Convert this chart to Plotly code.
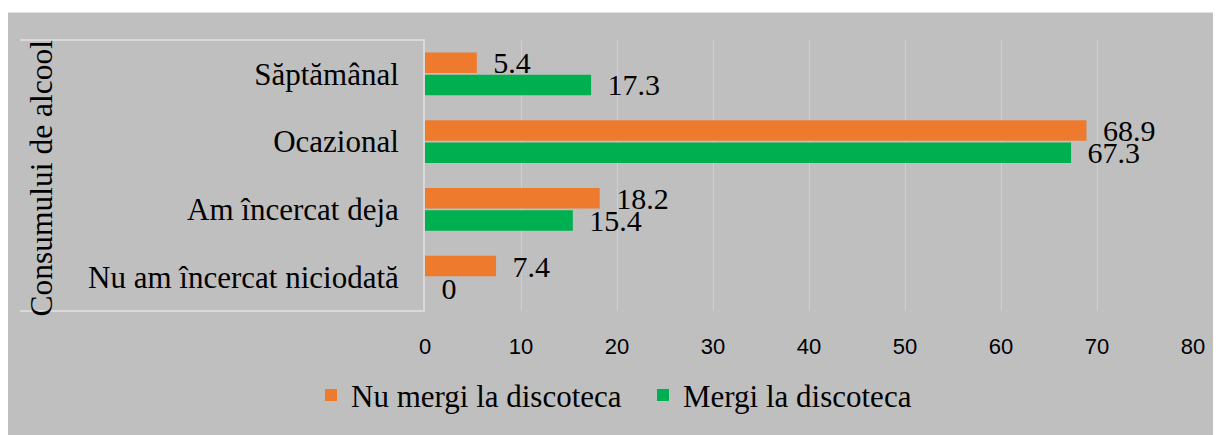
import plotly.graph_objects as go

categories = ["Nu am încercat niciodată", "Am încercat deja", "Ocazional", "Săptămânal"]
nu_mergi = [7.4, 18.2, 68.9, 5.4]
mergi = [0, 15.4, 67.3, 17.3]
series_names = ["Nu mergi la discoteca", "Mergi la discoteca"]
x_ticks = [0, 10, 20, 30, 40, 50, 60, 70, 80]
axis_title = "Consumului de alcool"

# page body has an 8px margin, so the figure is drawn 8px right/down
W, H = 1213, 427
ML, MR, MT, MB = 417, 28, 32, 119
PW, PH = W - ML - MR, H - MT - MB

def px_x(p):
    return (p - ML) / PW

def px_y(p):
    return (H - MB - p) / PH

SERIF = "Liberation Serif, Times New Roman, serif"
ORANGE = "#EE7A2E"
GREEN = "#00B050"
BG = "#BFBFBF"

def lab(v):
    return "\u00a0\u2009" + (f"{v:g}")

fig = go.Figure()
fig.add_trace(go.Bar(
    y=categories, x=mergi, orientation="h", name=series_names[1],
    marker=dict(color=GREEN, line=dict(width=0)), legendrank=2,
    text=[lab(v) for v in mergi], textposition="outside", constraintext="none",
    textfont=dict(family=SERIF, size=30, color="#000000"), cliponaxis=False,
))
fig.add_trace(go.Bar(
    y=categories, x=nu_mergi, orientation="h", name=series_names[0],
    marker=dict(color=ORANGE, line=dict(width=0)), legendrank=1,
    text=[lab(v) for v in nu_mergi], textposition="outside", constraintext="none",
    textfont=dict(family=SERIF, size=30, color="#000000"), cliponaxis=False,
))

shapes = [
    dict(type="rect", xref="paper", yref="paper", x0=px_x(-10), x1=px_x(W + 10), y0=px_y(4), y1=px_y(-10),
         fillcolor="white", line=dict(width=0), layer="below"),
    dict(type="line", xref="paper", yref="paper", x0=px_x(12), x1=0, y0=1, y1=1,
         line=dict(color="#D9D9D9", width=2)),
    dict(type="line", xref="paper", yref="paper", x0=px_x(12), x1=0, y0=0, y1=0,
         line=dict(color="#D9D9D9", width=2)),
]

fig.update_layout(
    width=W, height=H,
    margin=dict(l=ML, r=MR, t=MT, b=MB, pad=0),
    paper_bgcolor=BG, plot_bgcolor=BG,
    barmode="group", bargap=0.345, bargroupgap=0.08,
    font=dict(family=SERIF, size=30, color="#000000"),
    shapes=shapes,
    showlegend=True,
    legend=dict(orientation="h", x=px_x(635), xanchor="center", y=px_y(394), yanchor="middle",
                font=dict(family=SERIF, size=31, color="#000000"), bgcolor="rgba(0,0,0,0)",
                entrywidth=287, entrywidthmode="pixels"),
    annotations=[dict(text=axis_title, xref="paper", yref="paper", x=px_x(33), y=px_y(173),
                      textangle=-90, showarrow=False, xanchor="center", yanchor="middle",
                      font=dict(family=SERIF, size=31.5, color="#000000"))],
)
fig.update_xaxes(range=[0, 80], tickvals=x_ticks, showgrid=True, gridcolor="#CFCFCF", gridwidth=1,
                 zeroline=False, showline=False, ticks="",
                 tickfont=dict(family="Liberation Sans Narrow, Liberation Sans, sans-serif", size=22, color="#000000"),
                 ticklabelstandoff=20)
fig.update_yaxes(categoryorder="array", categoryarray=categories, showgrid=False, zeroline=False,
                 showline=True, linecolor="#D9D9D9", linewidth=2, ticks="",
                 tickfont=dict(family=SERIF, size=31, color="#000000"), ticklabelstandoff=18)

fig.write_html("out.html")
